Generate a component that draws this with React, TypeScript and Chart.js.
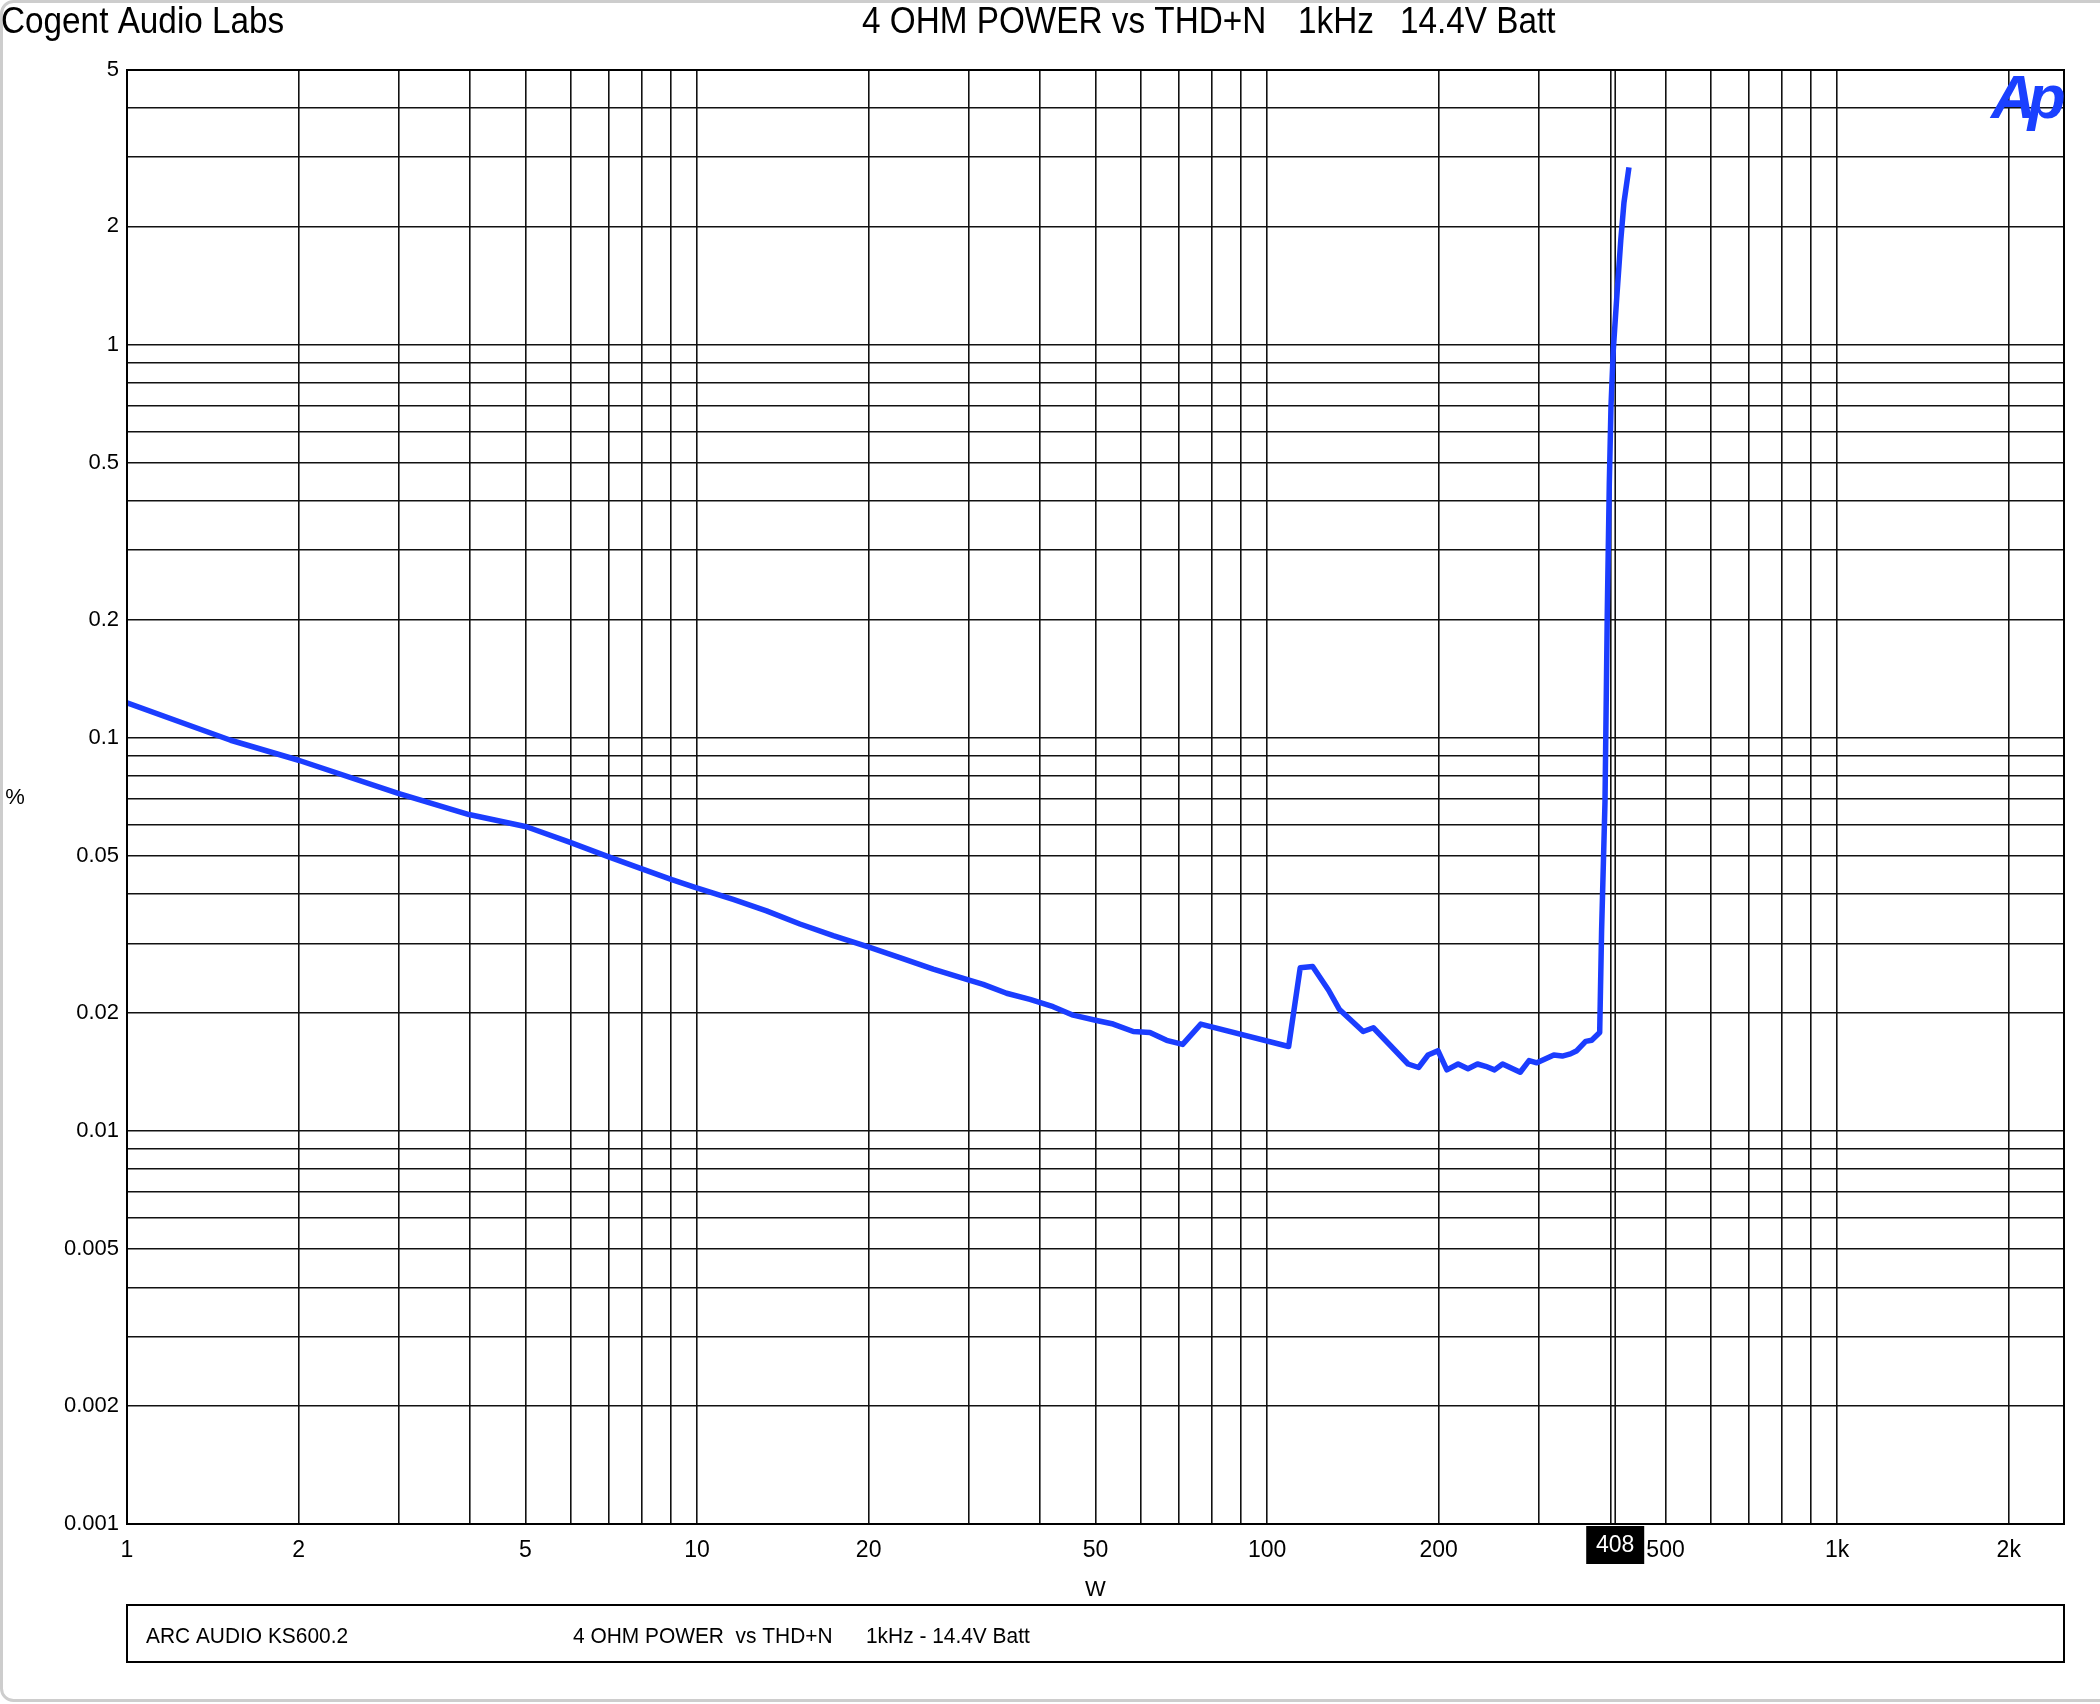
import React, { useEffect, useRef } from "react";
import { Chart, registerables } from "chart.js";

Chart.register(...registerables);

// ---- data ----
const powerW = [
  1, 1.52, 2.0, 2.99, 3.98, 5.02, 5.99, 7.0, 7.98, 9.03, 9.95, 11.57, 13.24, 15.15, 17.33, 19.97,
  22.69, 25.96, 29.71, 31.77, 34.91, 38.37, 42.14, 45.68, 50.22, 53.7, 58.24, 62.29, 66.63, 71.1,
  76.5, 109.1, 114.3, 120.2, 128.2, 133.8, 147.4, 153.6, 176.7, 184.4, 191.6, 199.4, 206.7, 216.3,
  225.1, 233.9, 241.7, 250.6, 258.9, 278.0, 288.1, 297.3, 318.4, 329.5, 340.5, 349.4, 362.1, 371.0,
  383.2, 386.2, 391.5, 395.2, 398.4, 401.1, 404.9, 410.5, 417.2, 422.7, 431.3,
];
const thdPct = [
  0.1227, 0.0986, 0.0877, 0.0722, 0.0638, 0.0594, 0.0542, 0.0498, 0.0465, 0.0436, 0.0416, 0.0388,
  0.0363, 0.0336, 0.0314, 0.0294, 0.0276, 0.0258, 0.0243, 0.0236, 0.0224, 0.0216, 0.0207, 0.0197,
  0.0191, 0.0187, 0.0179, 0.0178, 0.017, 0.0166, 0.0187, 0.0164, 0.026, 0.0262, 0.0228, 0.0204,
  0.0179, 0.0183, 0.0148, 0.0145, 0.0156, 0.016, 0.0143, 0.0148, 0.0144, 0.0148, 0.0146, 0.0143,
  0.0148, 0.0141, 0.0151, 0.0149, 0.0156, 0.0155, 0.0157, 0.016, 0.0169, 0.017, 0.0178, 0.0325,
  0.0686, 0.211, 0.445, 0.696, 0.974, 1.314, 1.839, 2.301, 2.827,
];

const xGridTicks = [
  1, 2, 3, 4, 5, 6, 7, 8, 9, 10, 20, 30, 40, 50, 60, 70, 80, 90, 100, 200, 300, 400, 500, 600, 700,
  800, 900, 1000, 2000, 2500,
];
const xLabelValues = [1, 2, 5, 10, 20, 50, 100, 200, 500, 1000, 2000];
const xLabelTexts = ["1", "2", "5", "10", "20", "50", "100", "200", "500", "1k", "2k"];

const yGridTicks = [
  0.001, 0.002, 0.003, 0.004, 0.005, 0.006, 0.007, 0.008, 0.009, 0.01, 0.02, 0.03, 0.04, 0.05, 0.06,
  0.07, 0.08, 0.09, 0.1, 0.2, 0.3, 0.4, 0.5, 0.6, 0.7, 0.8, 0.9, 1, 2, 3, 4, 5,
];
const yLabelValues = [0.001, 0.002, 0.005, 0.01, 0.02, 0.05, 0.1, 0.2, 0.5, 1, 2, 5];
const yLabelTexts = ["0.001", "0.002", "0.005", "0.01", "0.02", "0.05", "0.1", "0.2", "0.5", "1", "2", "5"];

const cursorW = 408;
const cursorText = "408";

const headerLeft = "Cogent Audio Labs";
const headerParts = ["4 OHM POWER vs THD+N", "1kHz", "14.4V Batt"];
const footerParts = ["ARC AUDIO KS600.2", "4 OHM POWER  vs THD+N", "1kHz - 14.4V Batt"];
const xTitle = "W";
const yTitle = "%";
const logoText = "Ap";

const FONT = "'Liberation Sans', Arial, Helvetica, sans-serif";
const LINE_BLUE = "#1b3dff";

function findLabel(v: number, vals: number[], texts: string[]) {
  for (let i = 0; i < vals.length; i++) {
    if (Math.abs(v - vals[i]) / vals[i] < 1e-6) return texts[i];
  }
  return "";
}

function drawCondensed(ctx: CanvasRenderingContext2D, text: string, x: number, y: number, size: number, sx: number) {
  ctx.save();
  ctx.translate(x, y);
  ctx.scale(sx, 1);
  ctx.font = `${size}px ${FONT}`;
  ctx.textAlign = "left";
  ctx.textBaseline = "alphabetic";
  ctx.fillText(text, 0, 0);
  ctx.restore();
}

const decorPlugin = {
  id: "decor",
  beforeDraw(chart: any) {
    const ctx = chart.ctx;
    ctx.save();
    ctx.fillStyle = "#fff";
    ctx.fillRect(0, 0, chart.width, chart.height);
    // light screenshot frame
    ctx.strokeStyle = "#cdcdcd";
    ctx.lineWidth = 3;
    ctx.beginPath();
    ctx.roundRect(1.5, 1.5, 2300, 1699, 12);
    ctx.stroke();
    ctx.restore();
  },
  beforeDatasetsDraw(chart: any) {
    const ctx = chart.ctx;
    const { top, bottom } = chart.chartArea;
    const cx = chart.scales.x.getPixelForValue(cursorW);
    ctx.save();
    ctx.strokeStyle = "#111";
    ctx.lineWidth = 1.6;
    ctx.beginPath();
    ctx.moveTo(cx, top);
    ctx.lineTo(cx, bottom);
    ctx.stroke();
    ctx.restore();
  },
  afterDraw(chart: any) {
    const ctx = chart.ctx;
    const { left, right, top, bottom } = chart.chartArea;
    ctx.save();
    // plot border
    ctx.strokeStyle = "#000";
    ctx.lineWidth = 2;
    ctx.strokeRect(left, top, right - left, bottom - top);

    // cursor label
    const cx = chart.scales.x.getPixelForValue(cursorW);
    ctx.fillStyle = "#000";
    ctx.fillRect(cx - 29, bottom + 2, 58, 38);
    ctx.fillStyle = "#fff";
    ctx.font = `23px ${FONT}`;
    ctx.textAlign = "center";
    ctx.textBaseline = "middle";
    ctx.fillText(cursorText, cx, bottom + 22);

    // headers
    ctx.fillStyle = "#000";
    drawCondensed(ctx, headerLeft, 1, 33, 37, 0.9);
    drawCondensed(ctx, headerParts[0], 862, 33, 37, 0.9);
    drawCondensed(ctx, headerParts[1], 1298, 33, 37, 0.9);
    drawCondensed(ctx, headerParts[2], 1400, 33, 37, 0.9);

    // axis titles
    ctx.fillStyle = "#000";
    ctx.font = `22px ${FONT}`;
    ctx.textAlign = "center";
    ctx.textBaseline = "middle";
    ctx.fillText(xTitle, (left + right) / 2, 1590);
    ctx.fillText(yTitle, 15, 798);

    // footer box
    ctx.strokeStyle = "#000";
    ctx.lineWidth = 2;
    ctx.strokeRect(left, 1605, right - left, 57);
    drawCondensed(ctx, footerParts[0], 146, 1643, 22, 0.95);
    drawCondensed(ctx, footerParts[1], 573, 1643, 22, 0.95);
    drawCondensed(ctx, footerParts[2], 866, 1643, 22, 0.95);

    // Ap logo
    ctx.fillStyle = "#1a40ff";
    ctx.font = `italic bold 62px ${FONT}`;
    (ctx as any).letterSpacing = "-8px";
    ctx.textAlign = "left";
    ctx.textBaseline = "alphabetic";
    ctx.fillText(logoText, 1991, 118);
    ctx.restore();
  },
};

export default function App() {
  const ref = useRef<HTMLCanvasElement | null>(null);

  useEffect(() => {
    if (!ref.current) return;
    const points = powerW.map((x, i) => ({ x, y: thdPct[i] }));
    const chart = new Chart(ref.current, {
      type: "line",
      data: {
        datasets: [
          {
            data: points,
            borderColor: LINE_BLUE,
            borderWidth: 5.5,
            pointRadius: 0,
            tension: 0,
            fill: false,
            borderJoinStyle: "round",
          },
        ],
      },
      options: {
        responsive: false,
        animation: false,
        devicePixelRatio: 1,
        layout: { padding: { left: 0, top: 70, right: 36, bottom: 0 } },
        plugins: {
          legend: { display: false },
          tooltip: { enabled: false },
          title: { display: false },
        },
        scales: {
          x: {
            type: "logarithmic",
            min: 1,
            max: 2500,
            afterBuildTicks: (s: any) => {
              s.ticks = xGridTicks.map((v) => ({ value: v }));
            },
            afterFit: (s: any) => {
              s.height = 180;
            },
            grid: { color: "#111", lineWidth: 1.6, drawTicks: false },
            border: { display: true, color: "#000", width: 2 },
            ticks: {
              autoSkip: false,
              maxRotation: 0,
              minRotation: 0,
              padding: 13,
              color: "#000",
              font: { family: FONT, size: 23 },
              callback: (v: any) => findLabel(Number(v), xLabelValues, xLabelTexts),
            },
          },
          y: {
            type: "logarithmic",
            min: 0.001,
            max: 5,
            afterBuildTicks: (s: any) => {
              s.ticks = yGridTicks.map((v) => ({ value: v }));
            },
            afterFit: (s: any) => {
              s.width = 127;
            },
            grid: { color: "#111", lineWidth: 1.6, drawTicks: false },
            border: { display: true, color: "#000", width: 2 },
            ticks: {
              autoSkip: false,
              padding: 8,
              color: "#000",
              font: { family: FONT, size: 22 },
              callback: (v: any) => findLabel(Number(v), yLabelValues, yLabelTexts),
            },
          },
        },
      },
      plugins: [decorPlugin],
    } as any);
    return () => chart.destroy();
  }, []);

  return (
    <div style={{ position: "absolute", left: 0, top: 0, width: 2100, height: 1704, background: "#fff" }}>
      <canvas ref={ref} width={2100} height={1704} style={{ width: 2100, height: 1704, display: "block" }} />
    </div>
  );
}
